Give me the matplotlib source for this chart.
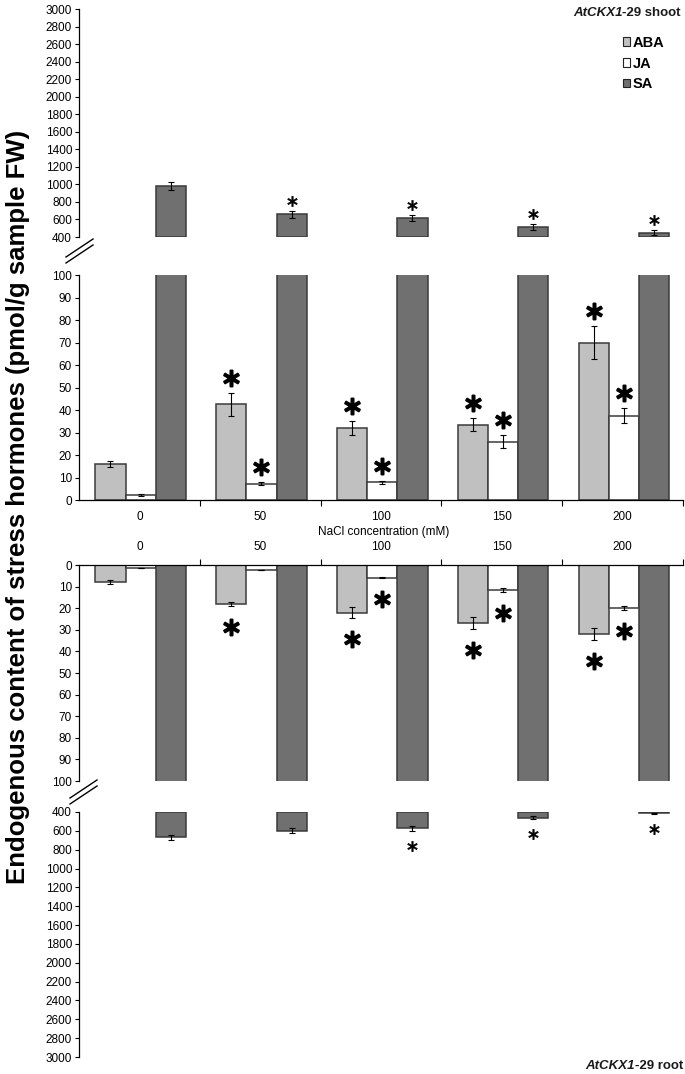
import matplotlib
matplotlib.use('Agg')
import matplotlib.pyplot as plt
from matplotlib import font_manager
from matplotlib.patches import Patch
from matplotlib.lines import Line2D
from matplotlib.text import Annotation
from matplotlib.transforms import offset_copy
import numpy as np

# ---------------- data ----------------
conc = ['0', '50', '100', '150', '200']
hormones = ['ABA', 'JA', 'SA']

shoot_aba = [16, 42.5, 32, 33.5, 70]
shoot_aba_err = [1.2, 5.2, 3, 3, 7.5]
shoot_ja = [2.3, 7.3, 7.8, 26, 37.5]
shoot_ja_err = [0.3, 0.8, 0.8, 3, 3.2]
shoot_sa = [980, 660, 615, 510, 450]
shoot_sa_err = [45, 40, 32, 35, 25]

root_aba = [8, 18, 22, 27, 32]
root_aba_err = [1, 1, 2.5, 2.8, 2.7]
root_ja = [1.3, 2.1, 5.8, 11.5, 19.8]
root_ja_err = [0, 0, 0.4, 0.8, 1.0]
root_sa = [670, 600, 575, 460, 412]
root_sa_err = [25, 25, 25, 15, 5]

shoot_aba_sig = [False, True, True, True, True]
shoot_ja_sig = [False, True, True, True, True]
shoot_sa_sig = [False, True, True, True, True]
root_aba_sig = [False, True, True, True, True]
root_ja_sig = [False, False, True, True, True]
root_sa_sig = [False, False, True, True, True]

high_ticks = list(range(400, 3001, 200))
low_ticks = list(range(0, 101, 10))

# ---------------- fonts ----------------
names = {f.name for f in font_manager.fontManager.ttflist}
narrow = 'Liberation Sans Narrow' if 'Liberation Sans Narrow' in names else 'Liberation Sans'
bold_font = 'Liberation Sans'

c_aba = '#c0c0c0'
c_ja = '#ffffff'
c_sa = '#707070'

W, H = 685, 1074
fig = plt.figure(figsize=(W / 100, H / 100), dpi=100)


def add(top, bottom):
    return fig.add_axes([79 / W, 1 - bottom / H, (683 - 79) / W, (bottom - top) / H])


ax1 = add(9, 237)
ax2 = add(275, 500)
ax3 = add(565, 781)
ax4 = add(812, 1057)

x = np.arange(len(conc))
bw = 0.25
off = [-0.24, 0.01, 0.26]
ekw = dict(ecolor='black', elinewidth=0.8, capsize=2, capthick=0.8, fmt='none', zorder=3)
bkw = dict(width=bw, linewidth=1.1, zorder=2)
edge = '#3a3a3a'

# shoot high (SA)
ax1.bar(x + off[2], np.array(shoot_sa) - 400, bottom=400, color=c_sa, edgecolor=edge, **bkw)
ax1.errorbar(x + off[2], shoot_sa, yerr=shoot_sa_err, **ekw)
ax1.set_ylim(400, 3000)

# shoot low
ax2.bar(x + off[0], shoot_aba, color=c_aba, edgecolor=edge, **bkw)
ax2.bar(x + off[1], shoot_ja, color=c_ja, edgecolor=edge, **bkw)
ax2.bar(x + off[2], shoot_sa, color=c_sa, edgecolor=edge, **bkw)
ax2.errorbar(x + off[0], shoot_aba, yerr=shoot_aba_err, **ekw)
ax2.errorbar(x + off[1], shoot_ja, yerr=shoot_ja_err, **ekw)
ax2.set_ylim(0, 100)

# root low (inverted)
ax3.bar(x + off[0], root_aba, color=c_aba, edgecolor=edge, **bkw)
ax3.bar(x + off[1], root_ja, color=c_ja, edgecolor=edge, **bkw)
ax3.bar(x + off[2], root_sa, color=c_sa, edgecolor=edge, **bkw)
ax3.errorbar(x + off[0], root_aba, yerr=root_aba_err, **ekw)
ax3.errorbar(x + off[1], root_ja, yerr=root_ja_err, **ekw)
ax3.set_ylim(100, 0)

# root high (inverted)
ax4.bar(x + off[2], np.array(root_sa) - 400, bottom=400, color=c_sa, edgecolor=edge, **bkw)
ax4.errorbar(x + off[2], root_sa, yerr=root_sa_err, **ekw)
ax4.set_ylim(3000, 400)

# axes styling
for ax in (ax1, ax4):
    ax.set_yticks(high_ticks)
    ax.set_xticks([])
for ax in (ax2, ax3):
    ax.set_yticks(low_ticks)

for ax in (ax1, ax2, ax3, ax4):
    ax.set_xlim(-0.5, 4.5)
    ax.set_facecolor('none')
    for s in ax.spines.values():
        s.set_visible(False)
    ax.spines['left'].set_visible(True)
    ax.spines['left'].set_linewidth(0.9)
    ax.tick_params(axis='y', direction='out', length=3, width=0.8, pad=2, labelsize=8.5)
    for lab in ax.get_yticklabels():
        lab.set_fontfamily(narrow)

ax2.spines['bottom'].set_visible(True)
ax2.spines['bottom'].set_linewidth(0.9)
ax2.set_xticks(x)
ax2.set_xticklabels(conc, fontfamily=narrow, fontsize=8.5)
ax2.set_xticks(np.arange(0.5, 5, 1), minor=True)
ax2.tick_params(axis='x', which='major', length=0, pad=8)
ax2.tick_params(axis='x', which='minor', length=4, width=0.8, direction='out')

ax3.spines['top'].set_visible(True)
ax3.spines['top'].set_linewidth(0.9)
ax3.xaxis.tick_top()
ax3.set_xticks(x)
ax3.set_xticklabels(conc, fontfamily=narrow, fontsize=8.5)
ax3.set_xticks(np.arange(0.5, 5, 1), minor=True)
ax3.tick_params(axis='x', which='major', length=0, pad=9, top=True, labeltop=True, bottom=False, labelbottom=False)
ax3.tick_params(axis='x', which='minor', length=4, width=0.8, direction='out', top=True, bottom=False)


# significance stars
def stars(ax, xs, vals, errs, sig, dots, size, mew):
    tr = offset_copy(ax.transData, fig=fig, x=0, y=dots, units='dots')
    for xi, v, e, s in zip(xs, vals, errs, sig):
        if s:
            ax.plot([xi], [v + e], marker=r'$\ast$', markersize=size, color='black',
                    markeredgewidth=mew, transform=tr, clip_on=False, zorder=5)


stars(ax1, x + off[2], shoot_sa, shoot_sa_err, shoot_sa_sig, 10, 7.5, 0.4)
stars(ax2, x + off[0], shoot_aba, shoot_aba_err, shoot_aba_sig, 15, 11.5, 1.4)
stars(ax2, x + off[1], shoot_ja, shoot_ja_err, shoot_ja_sig, 15, 11.5, 1.4)
stars(ax3, x + off[0], root_aba, root_aba_err, root_aba_sig, -21, 11.5, 1.4)
stars(ax3, x + off[1], root_ja, root_ja_err, root_ja_sig, -21, 11.5, 1.4)
stars(ax4, x + off[2], root_sa, root_sa_err, root_sa_sig, -15, 7.5, 0.4)


# panel titles: italic gene name + regular remainder
def panel_title(xr, yb, rest):
    t = fig.text(xr / W, 1 - yb / H, rest, ha='right', va='bottom',
                 fontsize=9.5, fontfamily=bold_font, fontweight='bold', color='#1a1a1a')
    fig.add_artist(Annotation('AtCKX1', xy=(0, 0), xycoords=t, ha='right', va='bottom',
                              fontsize=9.5, fontfamily=bold_font, fontweight='bold',
                              fontstyle='italic', color='#1a1a1a'))


panel_title(681, 19, '-29 shoot')
panel_title(683, 1072, '-29 root')

fig.text(384 / W, 1 - 532 / H, 'NaCl concentration (mM)', ha='center', va='center',
         fontsize=8.5, fontfamily=narrow)
fig.text(18 / W, 1 - 507 / H, 'Endogenous content of stress hormones (pmol/g sample FW)',
         rotation=90, ha='center', va='center', fontsize=18.5, fontweight='bold', fontfamily=bold_font)

# axis break marks
for (y0, x0) in ((251, 66), (792, 70)):
    for dy in (-3, 3):
        fig.add_artist(Line2D([(x0) / W, (x0 + 27) / W],
                              [1 - (y0 + 9 + dy) / H, 1 - (y0 - 9 + dy) / H],
                              color='black', lw=1.0))

# legend
handles = [Patch(facecolor=c, edgecolor='#222222', linewidth=0.8) for c in (c_aba, c_ja, c_sa)]
fig.legend(handles, hormones, loc='upper left', bbox_to_anchor=(623 / W, 1 - 36 / H),
           frameon=False, handlelength=0.5, handleheight=0.55, handletextpad=0.15,
           labelspacing=0.45, borderpad=0, borderaxespad=0,
           prop={'family': bold_font, 'weight': 'bold', 'size': 10.5})

fig.savefig('out.png', dpi=100)
